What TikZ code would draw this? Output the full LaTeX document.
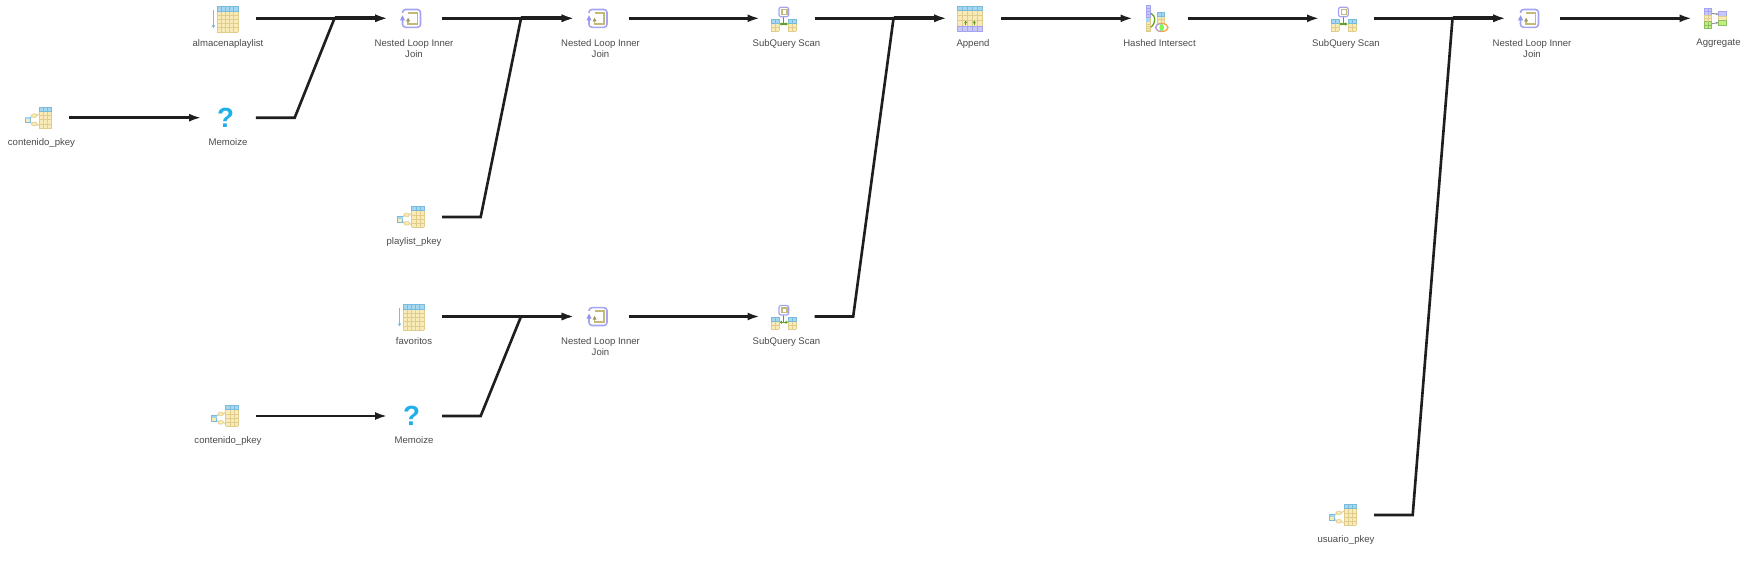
\documentclass[tikz,border=0pt]{standalone}
\usepackage{fontspec}
\setmainfont{Liberation Sans}
\usetikzlibrary{arrows.meta}

\definecolor{flowblack}{HTML}{1E1E1E}
\definecolor{textgray}{HTML}{4A4A4A}
\definecolor{cellfill}{HTML}{F8EBB8}
\definecolor{celledge}{HTML}{E0CC8C}
\definecolor{headfill}{HTML}{A5D8F0}
\definecolor{headedge}{HTML}{7ABBDC}
\definecolor{loopblue}{HTML}{A4A4F0}
\definecolor{loopolive}{HTML}{C4BA78}
\definecolor{lilacfill}{HTML}{C8C8F4}
\definecolor{leafgreen}{HTML}{5FA020}
\definecolor{limefill}{HTML}{BDF07E}
\definecolor{askblue}{HTML}{1FB0EA}

\tikzset{
	flow/.style={draw=flowblack, line width=1.5pt, line join=miter, shorten >=-0.03cm, -{Latex[length=0.25cm, width=0.16cm]}},
	flowtrunk/.style={draw=flowblack, line width=2.1pt, shorten >=0.2cm},
	opicon/.style={minimum width=1.12cm, minimum height=0.56cm, inner sep=0pt, outer sep=0pt},
	oplabel/.style={font=\fontsize{5.45pt}{6.3pt}\selectfont, text=textgray, align=center, inner sep=0pt, yshift=-0.132cm},
	askmark/.style={font=\bfseries\fontsize{15.8pt}{16pt}\selectfont, text=askblue, inner sep=0pt},
	pics/gridicon/.style n args={6}{code={
		% x, y, columns, rows, cell size, header height
		\fill[cellfill] (#1,#2) rectangle ++(#3*#5,#4*#5+#6);
		\fill[headfill] (#1,#2) rectangle ++(#3*#5,#6);
		\foreach \c in {0,...,#3}
			\draw[celledge, line width=0.35pt] (#1+\c*#5,#2+#6) -- ++(0,#4*#5);
		\foreach \r in {1,...,#4}
			\draw[celledge, line width=0.35pt] (#1,#2+#6+\r*#5) -- ++(#3*#5,0);
		\foreach \c in {0,...,#3}
			\draw[headedge, line width=0.35pt] (#1+\c*#5,#2) -- ++(0,#6);
		\draw[headedge, line width=0.35pt] (#1,#2) rectangle ++(#3*#5,#6);
	}},
	pics/scanicon/.style={code={
		\pic at (0,0) {gridicon={-8.5}{-12.3}{5}{5}{4.2}{5}};
		\draw[headedge, line width=0.75pt, -{Latex[length=0.06cm, width=0.08cm]}] (-12,-8.3) -- (-12,10);
	}},
	pics/indexicon/.style={code={
		\pic at (0,0) {gridicon={0.3}{-10.4}{3}{4}{4.15}{4.2}};
		\draw[celledge, line width=0.5pt] (-2.3,-2) -- (0.3,-4) (-2.3,6.3) -- (0.3,8);
		\filldraw[draw=celledge, fill=cellfill, line width=0.35pt, rounded corners=0.02cm] (-7.3,-3.7) rectangle (-2.3,-0.4);
		\filldraw[draw=celledge, fill=cellfill, line width=0.35pt, rounded corners=0.02cm] (-7.3,4.6) rectangle (-2.3,8);
		\draw[celledge, line width=0.5pt] (-9,1) -- (-7.3,-2) (-9,3.5) -- (-7.3,6.3);
		\filldraw[draw=headedge, fill=cellfill, line width=0.35pt] (-14,-0.4) rectangle (-9,5);
		\fill[headfill] (-14,-0.4) rectangle (-9,1.6);
	}},
	pics/loopicon/.style={code={
		\draw[loopblue, line width=0.9pt, rounded corners=0.06cm] (-9,-8.8) rectangle (9,9);
		\draw[loopolive, line width=1pt] (-3.4,-5.5) -- (6,-5.5) -- (6,5.7) -- (-3.4,5.7) -- (-3.4,2);
		\fill[white] (-10.5,-5) rectangle (-7.5,-1);
		\fill[loopblue!90!blue] (-9,-3) -- (-11.5,2) -- (-6.5,2) -- cycle;
		\fill[loopolive!80!black] (-3.4,-0.5) -- (-5.4,3) -- (-1.4,3) -- cycle;
	}},
	pics/askicon/.style={code={
		\node[askmark] (mark) at (0,0) {?};
	}},
	pics/subqueryicon/.style={code={
		\draw[leafgreen, line width=0.7pt] (-0.3,-2) -- (-0.3,5.7);
		\draw[leafgreen, line width=0.7pt, {Latex[length=0.05cm, width=0.07cm]}-{Latex[length=0.05cm, width=0.07cm]}] (-4.6,5.7) -- (4.2,5.7);
		\draw[loopblue, line width=0.7pt, rounded corners=0.04cm] (-5,-11) rectangle (4.7,-1.6);
		\draw[loopolive, line width=0.8pt] (-2.2,-8.6) rectangle (2.8,-3.9);
		\pic at (0,0) {gridicon={-12.7}{1}{2}{2}{4}{3.6}};
		\pic at (0,0) {gridicon={4.3}{1}{2}{2}{4}{3.6}};
	}},
	pics/appendicon/.style={code={
		\pic at (0,0) {gridicon={-13.2}{-12.3}{5}{3}{5.08}{4.6}};
		\fill[lilacfill] (-13.2,7.7) rectangle (12.2,13.4);
		\foreach \c in {0,...,5}
			\draw[loopblue, line width=0.35pt] (-13.2+\c*5.08,7.7) -- ++(0,5.7);
		\draw[loopblue, line width=0.35pt] (-13.2,7.7) rectangle (12.2,13.4);
		\foreach \c in {-4.8,3.8}
			\draw[leafgreen, line width=0.8pt, -{Latex[length=0.05cm, width=0.07cm]}] (\c,6.9) -- (\c,2.3);
	}},
	pics/intersecticon/.style={code={
		\filldraw[draw=loopblue, fill=lilacfill, line width=0.35pt] (-10.7,-13.3) rectangle (-6.7,-1);
		\foreach \r in {-10.2,-7.1,-4} \draw[loopblue, line width=0.25pt] (-10.7,\r) -- ++(4,0);
		\filldraw[draw=celledge, fill=cellfill, line width=0.35pt] (-10.7,-0.3) rectangle (-6.7,13.4);
		\fill[headfill] (-10.7,-0.3) rectangle (-6.7,3.4);
		\foreach \r in {5.5,7.6,9.7,11.5} \draw[celledge, line width=0.25pt] (-10.7,\r) -- ++(4,0);
		\draw[leafgreen, line width=0.7pt] (-6,-5) .. controls (-1,-2) and (-1,4) .. (-6,9);
		\pic at (0,0) {gridicon={0.3}{-6}{2}{2}{3.7}{3.6}};
		\draw[orange!55!celledge, line width=0.7pt] (4.7,9.2) ellipse (6.3 and 4);
		\draw[loopblue, line width=0.5pt] (2.6,9.2) ellipse (3.6 and 3.8);
		\fill[limefill!70!green] (4.7,9.2) ellipse (2.3 and 3.5);
	}},
	pics/aggregateicon/.style={code={
		\filldraw[draw=loopblue, fill=lilacfill, line width=0.35pt] (-12,-10) rectangle (-4.3,-3.3);
		\filldraw[draw=celledge, fill=cellfill, line width=0.35pt] (-12,-3.3) rectangle (-4.3,3.4);
		\filldraw[draw=leafgreen!70, fill=limefill, line width=0.35pt] (-12,3.4) rectangle (-4.3,10);
		\draw[loopblue, line width=0.25pt] (-8.2,-10) -- ++(0,6.7) (-12,-6.7) -- ++(7.7,0);
		\draw[celledge, line width=0.25pt] (-8.2,-3.3) -- ++(0,6.7) (-12,0) -- ++(7.7,0);
		\draw[leafgreen!70, line width=0.25pt] (-8.2,3.4) -- ++(0,6.6) (-12,6.7) -- ++(7.7,0);
		\filldraw[draw=loopblue, fill=lilacfill, line width=0.35pt] (2.3,-6.6) rectangle (10.7,-2.3);
		\filldraw[draw=celledge, fill=cellfill, line width=0.35pt] (2.3,-2.3) rectangle (10.7,2.4);
		\filldraw[draw=leafgreen!70, fill=limefill, line width=0.35pt] (2.3,2.4) rectangle (10.7,6.7);
		\draw[black!45, line width=0.5pt, -{Latex[length=0.04cm, width=0.05cm]}] (-4.3,-5) -- (2.3,-4);
		\draw[black!45, line width=0.5pt, -{Latex[length=0.04cm, width=0.05cm]}] (-4.3,5.5) -- (2.3,4.3);
	}}
}

\begin{document}
\begin{tikzpicture}[x=0.02cm, y=-0.02cm]
	\useasboundingbox (0,0) rectangle (1753,567);

	%Top row
	\node[opicon] (almacena) at (228,18.3) {};
	\node[opicon] (nested1) at (414,18.3) {};
	\node[opicon] (nested2) at (600.5,18.3) {};
	\node[opicon] (subquery1) at (786.5,18.3) {};
	\node[opicon] (append) at (973,18.3) {};
	\node[opicon] (intersect) at (1159.5,18.3) {};
	\node[opicon] (subquery3) at (1346,18.3) {};
	\node[opicon] (nested4) at (1532,18.3) {};
	\node[opicon] (aggregate) at (1718.5,18.3) {};

	%Other rows
	\node[opicon] (contenido1) at (41.5,117.7) {};
	\node[opicon] (memoize1) at (228,117.7) {};
	\node[opicon] (playlist) at (414,217) {};
	\node[opicon] (favoritos) at (414,316.5) {};
	\node[opicon] (nested3) at (600.5,316.5) {};
	\node[opicon] (subquery2) at (786.5,316.5) {};
	\node[opicon] (contenido2) at (228,416) {};
	\node[opicon] (memoize2) at (414,416) {};
	\node[opicon] (usuario) at (1346,515) {};

	%Icons
	\pic at ([xshift=-0.05cm]almacena) {scanicon};
	\pic at ([xshift=-0.05cm]favoritos) {scanicon};
	\pic at ([xshift=-0.05cm]contenido1) {indexicon};
	\pic at ([xshift=-0.05cm]contenido2) {indexicon};
	\pic at ([xshift=-0.05cm]playlist) {indexicon};
	\pic at ([xshift=-0.05cm]usuario) {indexicon};
	\pic at ([xshift=-0.05cm]nested1) {loopicon};
	\pic at ([xshift=-0.05cm]nested2) {loopicon};
	\pic at ([xshift=-0.05cm]nested3) {loopicon};
	\pic at ([xshift=-0.05cm]nested4) {loopicon};
	\pic (ask1) at ([xshift=-0.05cm]memoize1) {askicon};
	\pic (ask2) at ([xshift=-0.05cm]memoize2) {askicon};
	\pic at ([xshift=-0.05cm]subquery1) {subqueryicon};
	\pic at ([xshift=-0.05cm]subquery2) {subqueryicon};
	\pic at ([xshift=-0.05cm]subquery3) {subqueryicon};
	\pic at ([xshift=-0.05cm]append) {appendicon};
	\pic at ([xshift=-0.05cm]intersect) {intersecticon};
	\pic at ([xshift=-0.05cm]aggregate) {aggregateicon};

	%Labels
	\node[oplabel, below] (lblalmacena) at (almacena.south) {almacenaplaylist};
	\node[oplabel, below] (lblnested1) at (nested1.south) {Nested Loop Inner\\Join};
	\node[oplabel, below] (lblnested2) at (nested2.south) {Nested Loop Inner\\Join};
	\node[oplabel, below] (lblsubquery1) at (subquery1.south) {SubQuery Scan};
	\node[oplabel, below] (lblappend) at (append.south) {Append};
	\node[oplabel, below] (lblintersect) at (intersect.south) {Hashed Intersect};
	\node[oplabel, below] (lblsubquery3) at (subquery3.south) {SubQuery Scan};
	\node[oplabel, below] (lblnested4) at (nested4.south) {Nested Loop Inner\\Join};
	\node[oplabel, below] (lblaggregate) at (aggregate.south) {Aggregate};
	\node[oplabel, below] (lblcontenido1) at (contenido1.south) {contenido\_pkey};
	\node[oplabel, below] (lblmemoize1) at (memoize1.south) {Memoize};
	\node[oplabel, below] (lblplaylist) at (playlist.south) {playlist\_pkey};
	\node[oplabel, below] (lblfavoritos) at (favoritos.south) {favoritos};
	\node[oplabel, below] (lblnested3) at (nested3.south) {Nested Loop Inner\\Join};
	\node[oplabel, below] (lblsubquery2) at (subquery2.south) {SubQuery Scan};
	\node[oplabel, below] (lblcontenido2) at (contenido2.south) {contenido\_pkey};
	\node[oplabel, below] (lblmemoize2) at (memoize2.south) {Memoize};
	\node[oplabel, below] (lblusuario) at (usuario.south) {usuario\_pkey};

	%Joins
	\coordinate (join1) at (334.5,18.3);
	\coordinate (join2) at (521,18.3);
	\coordinate (join3) at (893.5,18.3);
	\coordinate (join4) at (521,316.5);
	\coordinate (join5) at (1452.5,18.3);

	%Lines
	\draw[flow] (contenido1.east) -- (memoize1.west);
	\draw[flow] (almacena.east) -- (nested1.west);
	\draw[flow] (memoize1.east) -- ++(38.7,0) -- (join1) -- (nested1.west);
	\draw[flow] (nested1.east) -- (nested2.west);
	\draw[flow] (playlist.east) -- ++(38.7,0) -- (join2) -- (nested2.west);
	\draw[flow] (nested2.east) -- (subquery1.west);
	\draw[flow] (subquery1.east) -- (append.west);
	\draw[flow] (subquery2.east) -- ++(38.7,0) -- (join3) -- (append.west);
	\draw[flow] (favoritos.east) -- (nested3.west);
	\draw[flow] (memoize2.east) -- ++(38.7,0) -- (join4) -- (nested3.west);
	\draw[flow] (contenido2.east) -- (memoize2.west);
	\draw[flow] (nested3.east) -- (subquery2.west);
	\draw[flow] (append.east) -- (intersect.west);
	\draw[flow] (intersect.east) -- (subquery3.west);
	\draw[flow] (subquery3.east) -- (nested4.west);
	\draw[flow] (usuario.east) -- ++(38.7,0) -- (join5) -- (nested4.west);
	\draw[flow] (nested4.east) -- (aggregate.west);

	%Thicker part after each join
	\draw[flowtrunk] (join1) -- (nested1.west);
	\draw[flowtrunk] (join2) -- (nested2.west);
	\draw[flowtrunk] (join3) -- (append.west);
	\draw[flowtrunk] (join4) -- (nested3.west);
	\draw[flowtrunk] (join5) -- (nested4.west);
\end{tikzpicture}
\end{document}
